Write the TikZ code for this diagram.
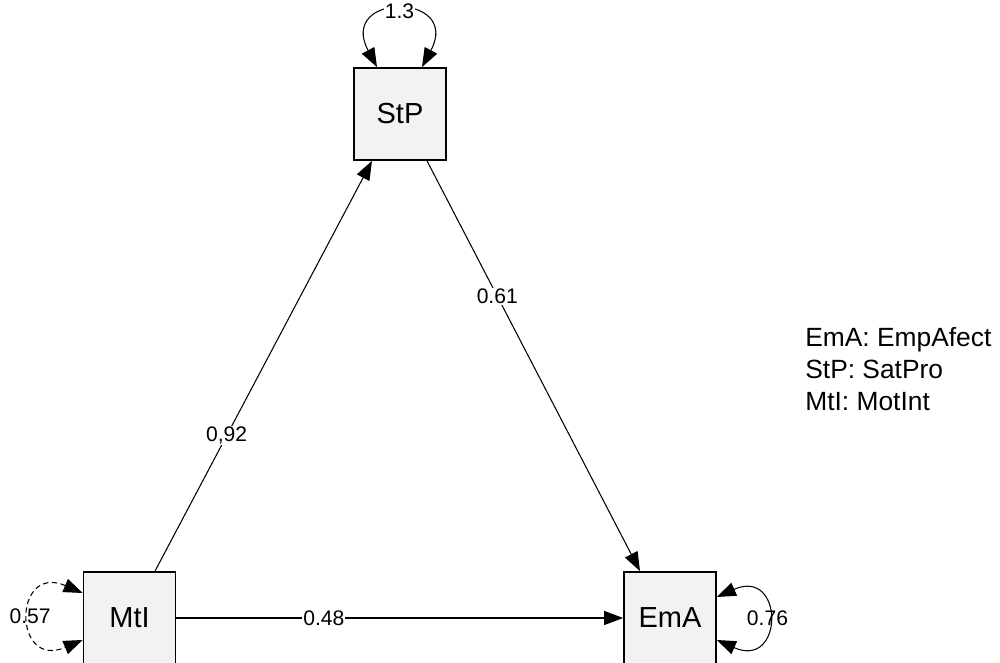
\documentclass[tikz,border=0pt]{standalone}
\usepackage{fontspec}
\setmainfont{Liberation Sans}
\usetikzlibrary{arrows.meta}
\begin{document}
\begin{tikzpicture}[
  var/.style={draw=black, line width=1pt, fill=gray!10, minimum size=1.84cm, inner sep=0pt, font=\fontsize{16.5}{19}\selectfont},
  arr/.style={-{Triangle[length=0.38cm,width=0.28cm]}, line width=0.6pt},
  dbl/.style={{Triangle[length=0.38cm,width=0.28cm]}-{Triangle[length=0.38cm,width=0.28cm]}, line width=0.6pt},
  coef/.style={fill=white, inner sep=0.5pt, font=\fontsize{12}{14}\selectfont},
  varlab/.style={inner sep=0.5pt, font=\fontsize{12}{14}\selectfont}]
  \useasboundingbox (0,0) rectangle (20,13.26);
  \node[var] (StP) at (8,10.98) {StP};
  \node[var] (MtI) at (2.59,0.9) {MtI};
  \node[var] (EmA) at (13.4,0.9) {EmA};
  \draw[arr] ([xshift=0.51cm]MtI.north) -- ([xshift=-0.56cm]StP.south) node[coef, pos=0.33] (bMS) {0,92};
  \draw[arr] ([xshift=0.54cm]StP.south) -- ([xshift=-0.6cm]EmA.north) node[coef, pos=0.33] (bSE) {0.61};
  \draw[arr] (MtI.east) -- (EmA.west) node[coef, pos=0.33] (bME) {0.48};
  \draw[dbl] ([xshift=-0.46cm]StP.north) .. controls +(-0.8,1.5) and +(0.8,1.5) .. ([xshift=0.44cm]StP.north) node[coef, pos=0.5] (vS) {1.3};
  \draw[dbl, dash pattern=on 3pt off 2pt] ([yshift=0.5cm]MtI.west) .. controls +(-1.4,0.6) and +(-1.4,-0.6) .. ([yshift=-0.44cm]MtI.west) node[varlab, pos=0.5] (vM) {0.57};
  \draw[dbl] ([yshift=0.42cm]EmA.east) .. controls +(1.35,0.6) and +(1.35,-0.6) .. ([yshift=-0.44cm]EmA.east) node[varlab, pos=0.5] (vE) {0.76};
  \node[anchor=north west, align=left, inner sep=0pt, font=\fontsize{15}{18.3}\selectfont] (key) at (16.1,6.72) {EmA: EmpAfect\\StP: SatPro\\MtI: MotInt};
\end{tikzpicture}
\end{document}
